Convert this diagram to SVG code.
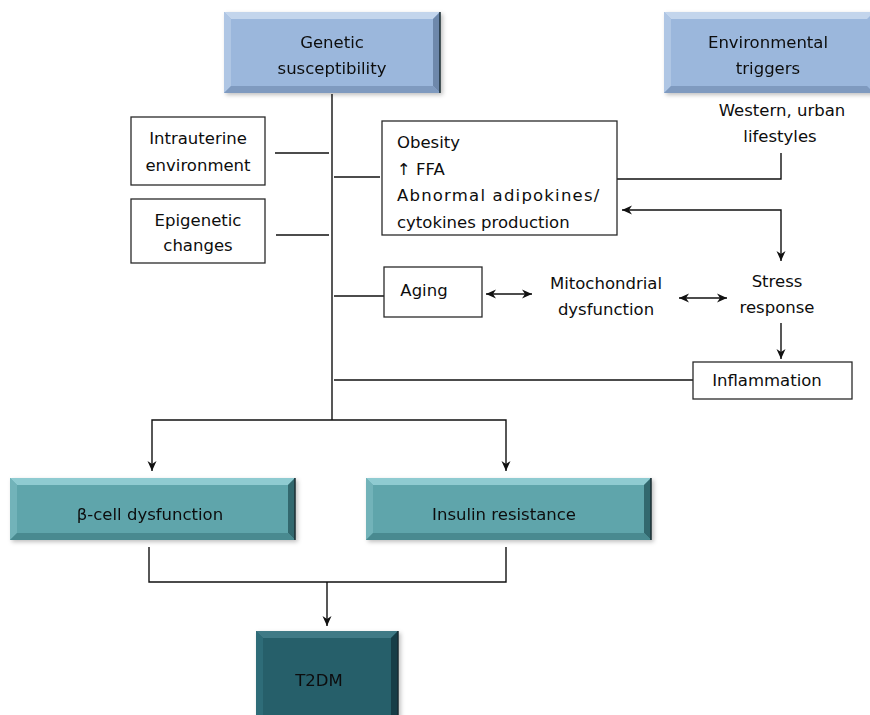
<svg xmlns="http://www.w3.org/2000/svg" width="870" height="715" viewBox="0 0 870 715">
<style>
text{font-family:"DejaVu Sans","Liberation Sans",sans-serif;font-size:16.5px;fill:#0d0d0d}
.c{text-anchor:middle}
.box{fill:#fff;stroke:#2a2a2a;stroke-width:1.3}
.ln{fill:none;stroke:#111;stroke-width:1.4}
.blue{fill:#9bb7dc}
.bTop{fill:#c3d5ec}
.bLeft{fill:#afc6e4}
.bRight{fill:#6e88ab}
.bBot{fill:#7f9abf}
.teal{fill:#5fa5ab}
.tTop{fill:#8fcbd1}
.tLeft{fill:#72b3b9}
.tRight{fill:#33686e}
.tBot{fill:#4a8a90}
.dark{fill:#265e6a}
.dTop{fill:#3f7a86}
.dLeft{fill:#2f6c78}
.dRight{fill:#163e46}
.edge{fill:none;stroke:#1b2b33;stroke-width:1.5}
</style>
<defs>
<marker id="ah" viewBox="0 0 10 10" refX="10" refY="5" markerWidth="10" markerHeight="10" markerUnits="userSpaceOnUse" orient="auto-start-reverse">
<path d="M0,0.5 L10,5 L0,9.5 L3,5 z" fill="#111"/>
</marker>
<filter id="sh" x="-5%" y="-5%" width="115%" height="125%">
<feDropShadow dx="2" dy="2" stdDeviation="2" flood-color="#000" flood-opacity="0.25"/>
</filter>
</defs>

<g id="connectors">
<line class="ln" x1="332" y1="94" x2="332" y2="420"/>
<line class="ln" x1="275" y1="153" x2="329" y2="153"/>
<line class="ln" x1="276" y1="235" x2="329" y2="235"/>
<line class="ln" x1="334" y1="177" x2="380" y2="177"/>
<line class="ln" x1="334" y1="296" x2="384" y2="296"/>
<line class="ln" x1="334" y1="380" x2="693" y2="380"/>
<path class="ln" d="M781,153 L781,179 L617,179"/>
<path class="ln" d="M622,210 L781,210 L781,261" marker-start="url(#ah)" marker-end="url(#ah)"/>
<line class="ln" x1="486" y1="294" x2="532" y2="294" marker-start="url(#ah)" marker-end="url(#ah)"/>
<line class="ln" x1="679" y1="298" x2="727" y2="298" marker-start="url(#ah)" marker-end="url(#ah)"/>
<line class="ln" x1="781" y1="323" x2="781" y2="359" marker-end="url(#ah)"/>
<path class="ln" d="M332,420 L152,420 L152,471" marker-end="url(#ah)"/>
<path class="ln" d="M332,420 L506,420 L506,471" marker-end="url(#ah)"/>
<path class="ln" d="M149,547 L149,582 L506,582 L506,547"/>
<line class="ln" x1="327" y1="582" x2="327" y2="626" marker-end="url(#ah)"/>
</g>

<g id="genetic" filter="url(#sh)">
<rect class="blue" x="224" y="12" width="216" height="81"/>
<polygon class="bTop" points="224,12 440,12 433,19 231,19"/>
<polygon class="bLeft" points="224,12 231,19 231,86 224,93"/>
<polygon class="bRight" points="440,12 440,93 433,86 433,19"/>
<polygon class="bBot" points="224,93 440,93 433,86 231,86"/>
<line class="edge" x1="440" y1="12" x2="440" y2="93"/>
<text class="c" x="332" y="48">Genetic</text>
<text class="c" x="332" y="74">susceptibility</text>
</g>

<g id="environmental" filter="url(#sh)">
<rect class="blue" x="664" y="12" width="210" height="81"/>
<polygon class="bTop" points="664,12 874,12 867,19 671,19"/>
<polygon class="bLeft" points="664,12 671,19 671,86 664,93"/>
<polygon class="bBot" points="664,93 874,93 867,86 671,86"/>
<text class="c" x="768" y="48">Environmental</text>
<text class="c" x="768" y="74">triggers</text>
</g>

<g id="western">
<text class="c" x="782" y="116">Western, urban</text>
<text class="c" x="780" y="142">lifestyles</text>
</g>

<g id="intrauterine">
<rect class="box" x="131" y="117" width="134" height="68"/>
<text class="c" x="198" y="144">Intrauterine</text>
<text class="c" x="198" y="171">environment</text>
</g>

<g id="epigenetic">
<rect class="box" x="131" y="199" width="134" height="64"/>
<text class="c" x="198" y="226">Epigenetic</text>
<text class="c" x="198" y="251">changes</text>
</g>

<g id="obesity">
<rect class="box" x="382" y="121" width="235" height="114"/>
<text x="397" y="148">Obesity</text>
<text x="397" y="175">↑ FFA</text>
<text x="397" y="201" letter-spacing="1.2">Abnormal adipokines/</text>
<text x="397" y="228">cytokines production</text>
</g>

<g id="aging">
<rect class="box" x="384" y="267" width="98" height="50"/>
<text class="c" x="424" y="296">Aging</text>
</g>

<g id="mitochondrial">
<text class="c" x="606" y="289">Mitochondrial</text>
<text class="c" x="606" y="315">dysfunction</text>
</g>

<g id="stress">
<text class="c" x="777" y="287">Stress</text>
<text class="c" x="777" y="313">response</text>
</g>

<g id="inflammation">
<rect class="box" x="693" y="362" width="159" height="37"/>
<text class="c" x="767" y="386">Inflammation</text>
</g>

<g id="betacell" filter="url(#sh)">
<rect class="teal" x="10" y="478" width="285" height="62"/>
<polygon class="tTop" points="10,478 295,478 288,485 17,485"/>
<polygon class="tLeft" points="10,478 17,485 17,533 10,540"/>
<polygon class="tRight" points="295,478 295,540 288,533 288,485"/>
<polygon class="tBot" points="10,540 295,540 288,533 17,533"/>
<line class="edge" x1="295" y1="478" x2="295" y2="540"/>
<text class="c" x="150" y="520">β-cell dysfunction</text>
</g>

<g id="insulin" filter="url(#sh)">
<rect class="teal" x="366" y="478" width="285" height="62"/>
<polygon class="tTop" points="366,478 651,478 644,485 373,485"/>
<polygon class="tLeft" points="366,478 373,485 373,533 366,540"/>
<polygon class="tRight" points="651,478 651,540 644,533 644,485"/>
<polygon class="tBot" points="366,540 651,540 644,533 373,533"/>
<line class="edge" x1="651" y1="478" x2="651" y2="540"/>
<text class="c" x="504" y="520">Insulin resistance</text>
</g>

<g id="t2dm" filter="url(#sh)">
<rect class="dark" x="256" y="631" width="142" height="90"/>
<polygon class="dTop" points="256,631 398,631 391,638 263,638"/>
<polygon class="dLeft" points="256,631 263,638 263,721 256,721"/>
<polygon class="dRight" points="398,631 398,721 391,721 391,638"/>
<line class="edge" x1="398" y1="631" x2="398" y2="721"/>
<text class="c" x="319" y="686">T2DM</text>
</g>
</svg>
